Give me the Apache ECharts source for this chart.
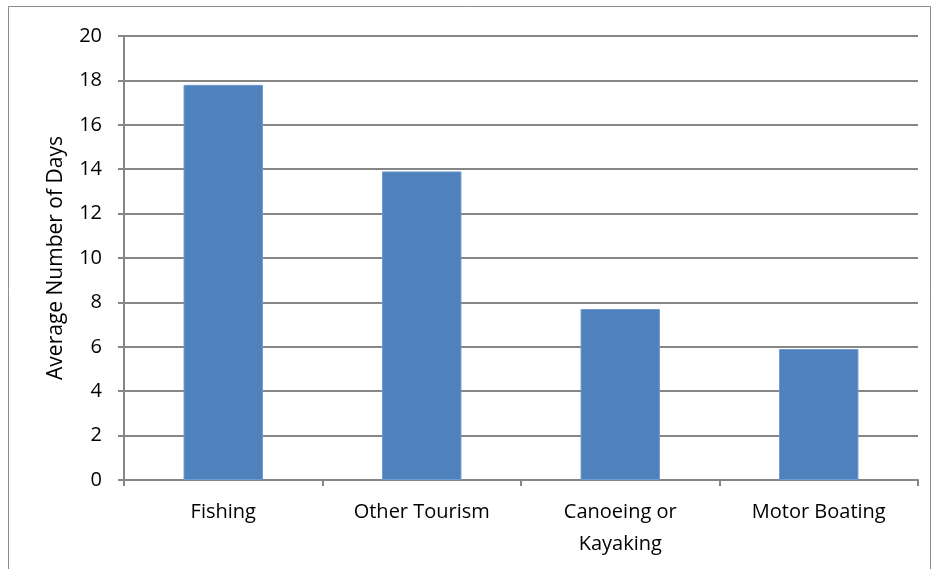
<!DOCTYPE html>
<html><head><meta charset="utf-8">
<script src="https://cdn.jsdelivr.net/npm/echarts@6/dist/echarts.min.js"></script>
<style>html,body{margin:0;padding:0;background:#fff}#c{width:936px;height:569px}</style>
</head><body><div id="c"></div>
<script>
const categories = ['Fishing', 'Other Tourism', 'Canoeing or\nKayaking', 'Motor Boating'];
const values = [17.8, 13.9, 7.7, 5.9];
const yTicks = {min: 0, max: 20, interval: 2};
const yName = 'Average Number of Days';

const chart = echarts.init(document.getElementById('c'), null, {renderer: 'canvas'});
const font = 'Open Sans, Liberation Sans, sans-serif';
chart.setOption({
  animation: false,
  backgroundColor: '#fff',
  graphic: [{type: 'rect', shape: {x: 8.5, y: 6.5, width: 922, height: 580}, style: {fill: 'none', stroke: '#8c8c8c', lineWidth: 1}, silent: true}],
  grid: {left: 124, right: 18, top: 36, bottom: 89, containLabel: false},
  xAxis: {
    type: 'category', data: categories,
    axisLine: {lineStyle: {color: '#868686', width: 2}},
    axisTick: {show: true, alignWithLabel: false, length: 6, lineStyle: {color: '#868686', width: 2}},
    axisLabel: {color: '#000', fontFamily: font, fontSize: 20, margin: 16, lineHeight: 32, interval: 0}
  },
  yAxis: {
    type: 'value', min: yTicks.min, max: yTicks.max, interval: yTicks.interval,
    name: yName, nameLocation: 'middle', nameGap: 57, nameRotate: 90,
    nameTextStyle: {color: '#000', fontFamily: font, fontSize: 21},
    axisLine: {show: true, lineStyle: {color: '#868686', width: 2}},
    axisTick: {show: true, length: 6, lineStyle: {color: '#868686', width: 2}},
    axisLabel: {color: '#000', fontFamily: font, fontSize: 20, margin: 22},
    splitLine: {lineStyle: {color: '#868686', width: 2}}
  },
  series: [{
    type: 'bar', data: values, barWidth: '40%',
    itemStyle: {color: '#4F81BD', borderColor: '#6F9AD0', borderWidth: 1}
  }]
});
</script></body></html>
